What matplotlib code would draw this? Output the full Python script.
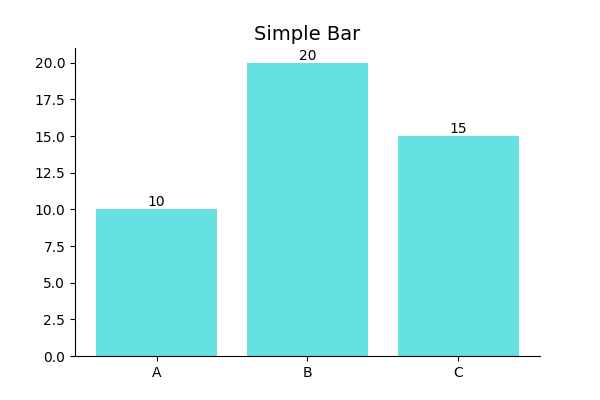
import matplotlib
matplotlib.use('Agg')
import matplotlib.pyplot as plt

categories = ['A', 'B', 'C']
values = [10, 20, 15]

fig, ax = plt.subplots(figsize=(6, 4), dpi=100)
bars = ax.bar(categories, values, color='darkturquoise', alpha=0.6)
ax.bar_label(bars)
ax.set_title('Simple Bar', fontsize=14)
ax.spines['top'].set_visible(False)
ax.spines['right'].set_visible(False)
fig.savefig('out.png')
